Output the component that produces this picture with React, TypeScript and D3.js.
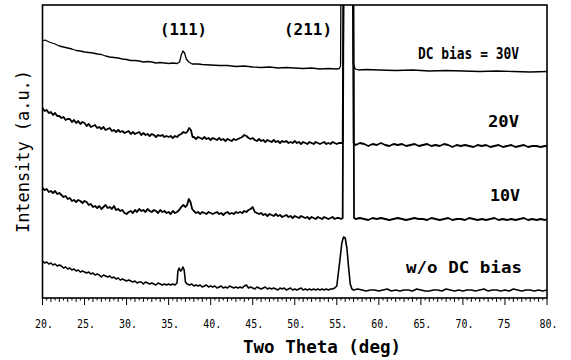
import React from "react";
import * as d3 from "d3";

type Pt = [number, number];

const xTicksMajor = [20, 25, 30, 35, 40, 45, 50, 55, 60, 65, 70, 75, 80];
const xTickLabels = ["20.", "25.", "30.", "35.", "40.", "45.", "50.", "55.", "60.", "65.", "70.", "75", "80."];

// evenly spaced readings: start angle, step, intensities
function seq(start: number, step: number, values: number[]): Pt[] {
  return values.map((v, i) => [start + i * step, v] as Pt);
}

const series30V: Pt[] = [
  [20.0, 257], [20.3, 258], [20.8, 256], [21.5, 254], [22.0, 252], [22.5, 251], [23.0, 250], [23.5, 249],
  [24.0, 247.5], [24.5, 247], [25.0, 246], [25.5, 245.5], [26.0, 245], [26.5, 244], [27.0, 243.5], [27.5, 242],
  [28.0, 241], [28.5, 240.5], [29.0, 240], [29.5, 239], [30.0, 238.5], [30.5, 237.5], [31.0, 237.5], [31.5, 237],
  [32.0, 236], [32.5, 236.5], [33.0, 236], [33.5, 235], [34.0, 235.5], [34.5, 235], [35.0, 234.5], [35.5, 235],
  [36.0, 234.5], [36.3, 236], [36.5, 243], [36.7, 247], [36.9, 245], [37.1, 239], [37.4, 236], [37.8, 234],
  [38.5, 234], [39.0, 233.5], [40.0, 233], [41.0, 232.5], [42.0, 232.5], [43.0, 231.5], [44.0, 232], [45.0, 231],
  [46.0, 230.5], [47.0, 231], [48.0, 230], [49.0, 230.5], [50.0, 230], [51.0, 229.5], [52.0, 230], [53.0, 229],
  [54.0, 229.5], [55.0, 229], [55.3, 229.5], [55.45, 232], [55.55, 420], [56.8, 420], [56.95, 234], [57.2, 229],
  [57.6, 228], [58.5, 228.5], [60.0, 228], [62.0, 227.5], [64.0, 228], [66.0, 227], [68.0, 227.5], [70.0, 227],
  [72.0, 226.5], [74.0, 227], [76.0, 226.5], [78.0, 226], [80.0, 226.5],
];

const series20V: Pt[] = [
  ...seq(20, 0.25, [
    190, 187, 188, 185, 186, 183, 185, 182, 182, 180,
    181, 178, 179, 179, 176, 178, 175, 177, 174, 176,
    175, 172, 174, 171, 172, 173, 170, 171, 169, 171,
    168, 169, 170, 167, 168, 166, 168, 166, 167, 165,
    166, 167, 164, 166, 164, 165, 166, 163, 165, 163,
    164, 162, 164, 163, 161, 163, 162, 163, 161, 162,
    161, 162, 160, 162, 161,
  ]),
  [36.25, 163], [36.5, 164], [36.75, 166], [37.0, 165], [37.2, 166], [37.45, 170], [37.65, 168], [37.85, 161],
  ...seq(38, 0.25, [
    161, 159, 161, 160, 159, 161, 159, 160, 158, 160,
    159, 158, 160, 158, 159, 157, 159, 158, 157, 159,
    158, 159, 160, 161, 163, 162, 160, 159, 160, 158,
    157, 159, 157, 158, 156, 158, 157, 156, 158, 156,
    157, 155, 157, 156, 157, 155, 156, 155, 157, 155,
    156, 154, 156, 155, 154, 156, 155, 154, 156, 155,
    154, 155, 156, 154, 155, 154, 156, 155, 154, 155, 155,
  ]),
  [55.7, 155], [55.85, 420], [56.9, 420], [57.0, 155],
  ...seq(57.25, 0.5, [
    153, 155, 154, 152, 154, 153, 155, 153, 152, 154,
    153, 154, 152, 153, 154, 152, 153, 154, 152, 153,
    152, 154, 153, 151, 153, 152, 153, 152, 151, 153,
    152, 153, 151, 152, 153, 151, 152, 153, 151, 152,
    153, 151, 152, 152, 151, 152,
  ]),
  [80, 152],
];

const series10V: Pt[] = [
  ...seq(20, 0.25, [
    110, 108, 109, 106, 107, 105, 107, 104, 105, 103,
    101, 102, 99, 100, 97, 98, 96, 98, 97, 95,
    97, 96, 93, 94, 91, 92, 90, 92, 89, 91,
    93, 90, 91, 89, 92, 88, 89, 87, 88, 85,
    84, 86, 87, 85, 88, 86, 89, 87, 88, 86,
    89, 87, 86, 88, 87, 85, 88, 86, 87, 85,
    86, 84, 87, 85, 86,
  ]),
  [36.25, 88], [36.5, 91], [36.75, 93], [37.0, 91], [37.2, 93], [37.4, 99], [37.6, 96], [37.8, 89],
  ...seq(38, 0.25, [
    87, 85, 86, 84, 86, 85, 84, 86, 85, 84,
    85, 86, 84, 85, 83, 85, 86, 84, 85, 84,
    86, 85, 86, 85, 87, 86, 88, 89, 91, 86,
    85, 84, 85, 83, 84, 82, 84, 83, 82, 84,
    82, 83, 81, 82, 83, 81, 82, 80, 82, 81,
    80, 82, 81, 80, 81, 79, 81, 80, 79, 81,
    80, 79, 81, 80, 79, 80, 81, 79, 80, 80, 79,
  ]),
  [55.7, 80], [55.85, 420], [56.95, 420], [57.05, 80],
  ...seq(57.25, 0.5, [
    79, 80, 79, 78, 80, 79, 80, 79, 78, 79,
    80, 79, 78, 79, 80, 79, 79, 78, 80, 79,
    78, 79, 80, 78, 79, 79, 78, 80, 79, 78,
    79, 78, 79, 80, 78, 79, 78, 79, 78, 79,
    80, 78, 79, 78, 79, 78,
  ]),
  [80, 79],
];

const seriesNoBias: Pt[] = [
  ...seq(20, 0.25, [
    37, 35, 36, 34, 35, 33, 34, 32, 33, 32,
    30, 31, 29, 30, 28, 29, 27, 28, 26, 27,
    26, 25, 26, 24, 25, 23, 24, 23, 21, 23,
    22, 21, 22, 20, 21, 19, 20, 18, 19, 18,
    17, 18, 17, 16, 17, 15, 16, 16, 14, 16,
    15, 14, 15, 14, 13, 15, 14, 13, 14, 13,
    14, 13, 14, 13,
  ]),
  [36.0, 15], [36.1, 27], [36.25, 30], [36.4, 27], [36.55, 28], [36.7, 31], [36.85, 28], [37.0, 16], [37.2, 14],
  ...seq(37.5, 0.25, [
    13, 14, 12, 13, 12, 13, 11, 12, 13, 11,
    12, 11, 12, 10, 11, 12, 10, 11, 10, 12,
    11, 10, 11, 10, 11, 10, 12, 13, 10, 11,
    10, 9, 11, 10, 9, 10, 11, 9, 10, 9,
    10, 9, 8, 10, 9, 10, 8, 9, 10, 8,
    9, 8, 9, 10, 8, 9, 8, 9, 8, 9,
    8, 9, 8, 9, 8, 9, 8, 9, 9, 10,
  ]),
  [55.0, 12], [55.2, 26], [55.4, 40], [55.6, 55], [55.8, 61], [56.0, 60], [56.2, 50], [56.4, 31], [56.6, 14], [56.8, 9],
  ...seq(57, 0.5, [
    8, 9, 8, 7, 8, 8, 7, 8, 9, 7,
    8, 7, 8, 8, 7, 9, 8, 7, 7, 8,
    8, 7, 9, 8, 7, 8, 7, 8, 8, 7,
    8, 9, 7, 8, 8, 7, 8, 7, 9, 8,
    7, 8, 8, 7, 8, 7, 8,
  ]),
];

const seriesList = [
  { name: "30V", data: series30V, width: 1.3 },
  { name: "20V", data: series20V, width: 1.8 },
  { name: "10V", data: series10V, width: 1.8 },
  { name: "w/o", data: seriesNoBias, width: 1.6 },
];

const W = 571;
const H = 360;
const L = 42.5;
const R = 547;
const T = 5;
const B = 298;

export default function App() {
  const x = d3.scaleLinear().domain([20, 80]).range([L, R]);
  const y = d3.scaleLinear().domain([0, 293]).range([B, T]);
  const line = d3
    .line<Pt>()
    .x((d) => x(d[0]))
    .y((d) => y(d[1]));

  const minor = d3.range(20, 80.01, 0.5);
  const font = "'DejaVu Sans Mono', 'Liberation Mono', monospace";

  return (
    <svg
      width={W}
      height={H}
      style={{ position: "absolute", left: 0, top: 0, background: "#fff" }}
    >
      <defs>
        <clipPath id="plot">
          <rect x={L} y={T} width={R - L} height={B - T} />
        </clipPath>
      </defs>
      <rect x={0} y={0} width={W} height={H} fill="#fff" />
      <g clipPath="url(#plot)">
        {seriesList.map((s) => (
          <path
            key={s.name}
            d={line(s.data) || ""}
            fill="none"
            stroke="#000"
            strokeWidth={s.width}
            strokeLinejoin="round"
          />
        ))}
      </g>
      <rect x={L} y={T} width={R - L} height={B - T} fill="none" stroke="#000" strokeWidth={1.6} />
      {minor.map((v) => {
        const r = Math.round(v * 2) / 2;
        const isMajor = Math.abs(r % 5) < 1e-6;
        const isInt = Math.abs(r % 1) < 1e-6;
        const len = isMajor ? 7 : isInt ? 4 : 2.5;
        return (
          <line
            key={"t" + r}
            x1={x(r)}
            x2={x(r)}
            y1={B}
            y2={B + len}
            stroke="#000"
            strokeWidth={1}
          />
        );
      })}
      {xTicksMajor.map((v, i) => (
        <text
          key={"l" + v}
          x={x(v) - 7.5}
          y={328}
          fontFamily={font}
          fontSize={13}
          textLength={xTickLabels[i].length === 3 ? 18 : 13}
          lengthAdjust="spacingAndGlyphs"
          fill="#000"
        >
          {xTickLabels[i]}
        </text>
      ))}
      <text
        x={243}
        y={353}
        fontFamily={font}
        fontSize={18}
        fontWeight="bold"
        textLength={158}
        lengthAdjust="spacingAndGlyphs"
        fill="#000"
      >
        Two Theta (deg)
      </text>
      <text
        transform="translate(29,151.5) rotate(-90)"
        textAnchor="middle"
        fontFamily={font}
        fontSize={17}
        textLength={163}
        lengthAdjust="spacingAndGlyphs"
        fill="#000"
      >
        Intensity (a.u.)
      </text>
      <g fontFamily={font} fontSize={16} fontWeight="bold" fill="#000">
        <text x={160} y={35} textLength={47} lengthAdjust="spacingAndGlyphs">(111)</text>
        <text x={284} y={35} textLength={48} lengthAdjust="spacingAndGlyphs">(211)</text>
        <text x={418} y={59} textLength={101} lengthAdjust="spacingAndGlyphs">DC bias = 30V</text>
        <text x={488} y={127} textLength={31} lengthAdjust="spacingAndGlyphs">20V</text>
        <text x={490} y={201} textLength={30} lengthAdjust="spacingAndGlyphs">10V</text>
        <text x={406} y={273} textLength={116} lengthAdjust="spacingAndGlyphs">w/o DC bias</text>
      </g>
    </svg>
  );
}
